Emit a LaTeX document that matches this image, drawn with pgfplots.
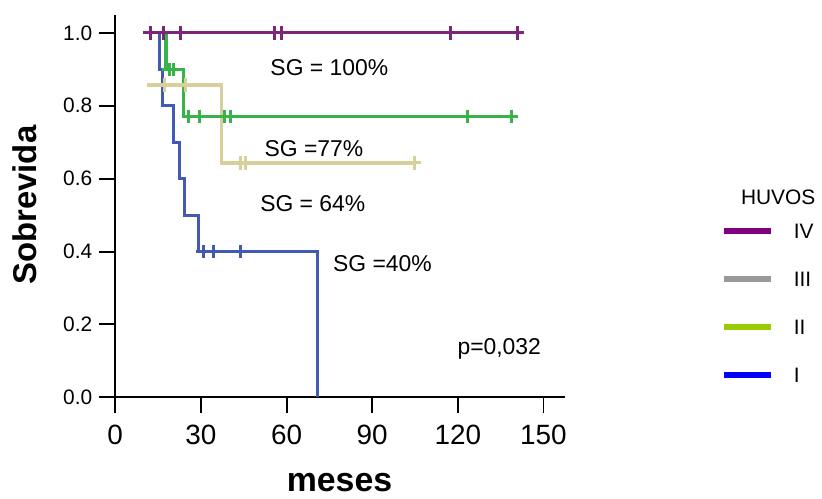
\documentclass[border=0pt]{standalone}
\usepackage{fontspec}
\setmainfont{Liberation Sans}
\usepackage{pgfplots}
\pgfplotsset{compat=1.18}

\definecolor{cIV}{HTML}{7B267D}
\definecolor{cIII}{HTML}{D8D09A}
\definecolor{cII}{HTML}{38B24A}
\definecolor{cI}{HTML}{415AB4}
\definecolor{lIV}{HTML}{800080}
\definecolor{lIII}{HTML}{999999}
\definecolor{lII}{HTML}{99CC00}
\definecolor{lI}{HTML}{0000FF}

\begin{document}
\begin{tikzpicture}
% Kaplan-Meier curves by HUVOS grade; 1px of the reference = 0.5pt
\begin{axis}[
    scale only axis, width=225.65pt, height=192pt,
    xmin=0, xmax=157.4, ymin=0, ymax=1.0492,
    axis lines=left, axis line style={-, line width=1pt},
    xtick={0,30,60,90,120,150}, ytick={0,0.2,0.4,0.6,0.8,1.0},
    tick align=outside, major tick length=8pt,
    tick style={black, line width=1pt},
    /pgf/number format/assume math mode=true,
    yticklabel style={/pgf/number format/.cd, fixed, fixed zerofill, precision=1,
        /tikz/.cd, font=\fontsize{10.5}{12}\selectfont},
    xticklabel style={font=\fontsize{14}{16}\selectfont, yshift=-2.5pt},
    xlabel={meses}, ylabel={Sobrevida},
    every axis x label/.style={at={(axis description cs:0.499,-0.2474)}, anchor=base,
        font=\fontsize{17}{20}\selectfont\bfseries},
    every axis y label/.style={at={(axis description cs:-0.175,0.5026)}, anchor=base,
        rotate=90, font=\fontsize{16.5}{20}\selectfont\bfseries},
    clip=false,
    legend style={at={(axis cs:212.2,0.476)}, anchor=north west, draw=none, fill=none,
        inner sep=0pt, outer sep=0pt, row sep=16.5pt, column sep=10pt,
        font=\fontsize{10.5}{12}\selectfont,
        nodes={inner sep=0pt, text height=7.5pt, text depth=0pt}},
    legend cell align=left,
    legend image code/.code={\draw[line width=3pt] (0pt,0pt) -- (23.5pt,0pt);},
]
\addlegendimage{lIV}\addlegendentry{IV}
\addlegendimage{lIII}\addlegendentry{III}
\addlegendimage{lII}\addlegendentry{II}
\addlegendimage{lI}\addlegendentry{I}

% I
\addplot[forget plot, cI, line width=1.6pt] coordinates
  {(15.45,1.0)(15.45,0.9)(16.6,0.9)(16.6,0.8)(20.3,0.8)(20.3,0.7)(22.5,0.7)(22.5,0.6)
   (24.3,0.6)(24.3,0.5)(29.2,0.5)(29.2,0.4)(70.9,0.4)(70.9,0)};
\addplot[forget plot, cI, only marks, mark=+, mark size=3.4pt, mark options={line width=1.5pt}] coordinates
  {(30.8,0.4)(34.4,0.4)(43.9,0.4)};
% II
\addplot[forget plot, cII, line width=1.6pt] coordinates
  {(17.8,1.0)(17.8,0.9)(23.9,0.9)(23.9,0.771)(138.7,0.771)};
\addplot[forget plot, cII, only marks, mark=+, mark size=3.4pt, mark options={line width=1.5pt}] coordinates
  {(18.9,0.9)(20.4,0.9)(25.6,0.771)(29.6,0.771)(38.1,0.771)(40.5,0.771)(123.3,0.771)(138.7,0.771)};
% III
\addplot[forget plot, cIII, line width=1.6pt] coordinates
  {(11.0,0.857)(37.2,0.857)(37.2,0.643)(104.7,0.643)};
\addplot[forget plot, cIII, only marks, mark=+, mark size=3.4pt, mark options={line width=1.5pt}] coordinates
  {(17.2,0.857)(24.5,0.857)(43.9,0.643)(45.7,0.643)(104.7,0.643)};
% IV
\addplot[forget plot, cIV, line width=1.6pt] coordinates
  {(12.2,1.0)(140.8,1.0)};
\addplot[forget plot, cIV, only marks, mark=+, mark size=3.4pt, mark options={line width=1.5pt}] coordinates
  {(12.2,1.0)(16.8,1.0)(22.8,1.0)(55.8,1.0)(58.4,1.0)(117.4,1.0)(140.8,1.0)};

\begin{scope}[every node/.style={font=\fontsize{11.5}{13}\selectfont, anchor=base}]
\node at (axis cs:75.0,0.8825) {SG = 100\%};
\node at (axis cs:69.6,0.662) {SG =77\%};
\node at (axis cs:69.2,0.509) {SG = 64\%};
\node at (axis cs:93.6,0.345) {SG =40\%};
\node at (axis cs:134.5,0.118) {p=0,032};
\end{scope}
\node[font=\fontsize{10.5}{12}\selectfont, anchor=base] at (axis cs:232.2,0.530) {HUVOS};

\path (axis cs:-40.36,-0.276) rectangle (axis cs:246.36,1.0902);
\end{axis}
\end{tikzpicture}
\end{document}
